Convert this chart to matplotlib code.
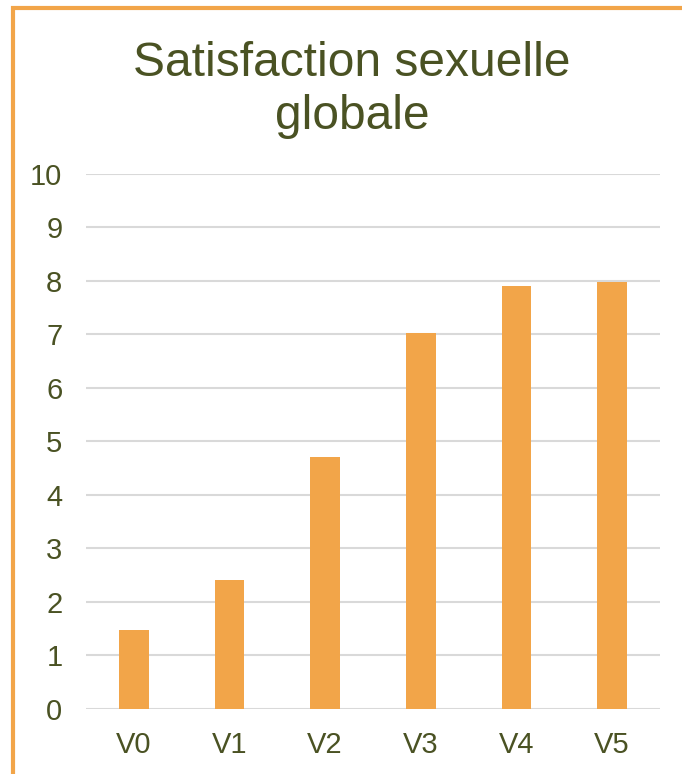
import matplotlib.pyplot as plt
from matplotlib.patches import Rectangle

categories = ['V0', 'V1', 'V2', 'V3', 'V4', 'V5']
values = [1.47, 2.41, 4.70, 7.02, 7.90, 7.98]
yticks = list(range(0, 11))

orange = '#f2a549'
text_col = '#4a5223'

plt.rcParams['font.family'] = ['Liberation Sans', 'DejaVu Sans']

fig = plt.figure(figsize=(6.82, 7.74), dpi=100)
ax = fig.add_axes([0.1261, 0.0844, 0.8416, 0.6908])

x = range(len(categories))
ax.bar(x, values, width=0.31, color=orange, zorder=3)

ax.set_xlim(-0.5, len(categories) - 0.5)
ax.set_ylim(0, 10)
ax.set_yticks(yticks)
ax.set_xticks(list(x))
ax.set_xticklabels(categories)
ax.grid(axis='y', color='#d9d9d9', linewidth=1.5, zorder=0)
for s in ax.spines.values():
    s.set_visible(False)
ax.tick_params(length=0, labelsize=21, colors=text_col)
ax.tick_params(axis='y', pad=17)
ax.tick_params(axis='x', pad=16)

fig.text(0.516, 0.884, 'Satisfaction sexuelle\nglobale', ha='center', va='center',
         fontsize=34.5, color=text_col, linespacing=1.22)

# orange frame (top and left edges visible)
fig.patches.append(Rectangle((13 / 682, -0.1), 1.2, 1 - 8 / 774 + 0.1,
                             transform=fig.transFigure, fill=False,
                             edgecolor=orange, linewidth=3))

fig.savefig('out.png', dpi=100)
